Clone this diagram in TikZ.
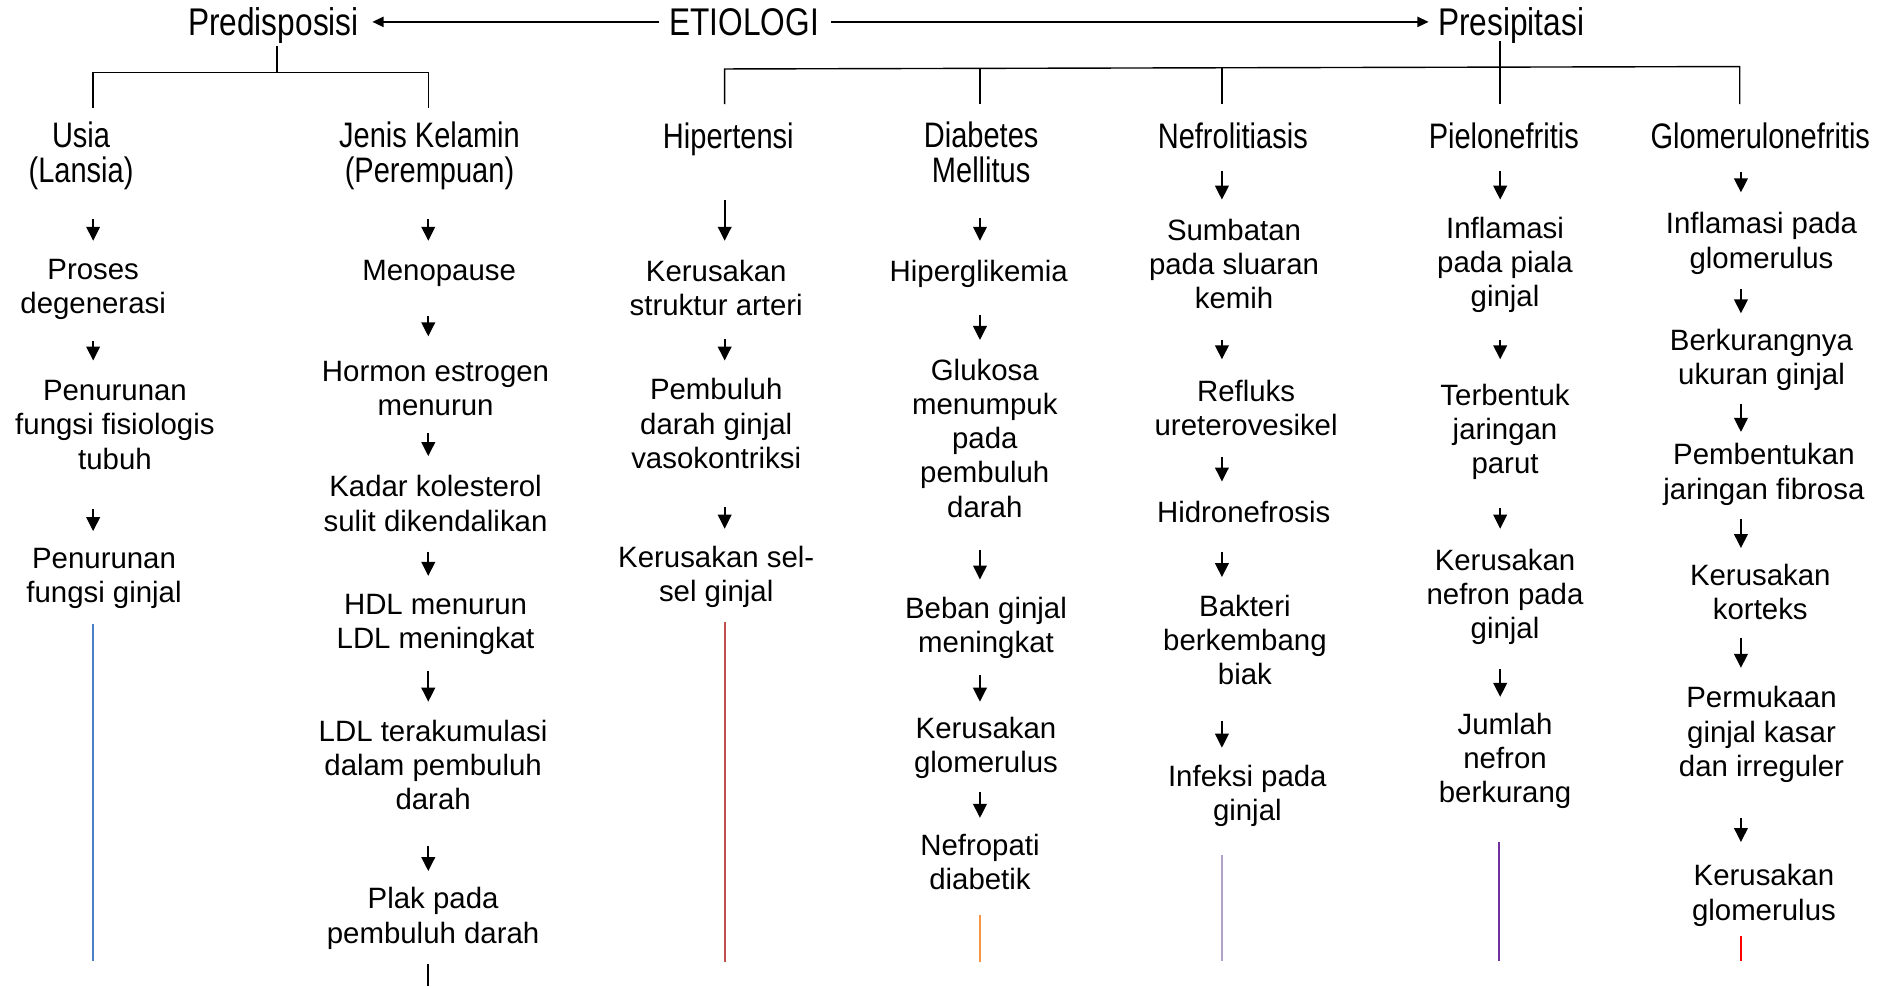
\documentclass[tikz,border=0pt]{standalone}
\usepackage{fontspec}
\setmainfont{Liberation Sans}
\newfontfamily\narrowfont[FakeStretch=0.82]{Liberation Sans}
\usetikzlibrary{arrows.meta}
\definecolor{lblue}{HTML}{4A7EC7}
\definecolor{lred}{HTML}{C0504D}
\definecolor{lorange}{HTML}{F79646}
\definecolor{llav}{HTML}{B3A2C7}
\definecolor{lpurple}{HTML}{7030A0}
\definecolor{lbright}{HTML}{FF0000}
\tikzset{
 txt/.style={font=\fontsize{14.7}{17.1}\selectfont, align=center, inner sep=0pt, yshift=-0.7pt},
 one/.style={yshift=-0.6pt},
 hd/.style={font=\narrowfont\fontsize{17.7}{17.5}\selectfont, align=center, inner sep=0pt},
 hdtwo/.style={hd, yshift=-1.2pt},
 ttl/.style={font=\narrowfont\fontsize{19.3}{22}\selectfont, inner sep=0pt, anchor=base},
 arr/.style={-{Triangle[width=6.8pt,length=7pt]}, line width=1pt},
 bigarr/.style={-{Triangle[width=5pt,length=5.6pt]}, line width=1pt},
 br/.style={line width=0.7pt},
 tail/.style={line width=1pt},
}
\newcommand\flow[4]{\coordinate (#1s) at (#2,#3); \coordinate (#1e) at (#2,#4); \draw[arr] (#1s) -- (#1e);}
\newcommand\tailline[5]{\coordinate (#1s) at (#2,#3); \coordinate (#1e) at (#2,#4); \draw[tail,#5] (#1s) -- (#1e);}
\begin{document}
\begin{tikzpicture}[x=0.6049pt,y=-0.6049pt]
\useasboundingbox (0,0) rectangle (1568,815);
% top row
\node[ttl] (pre) at (226,29.5) {Predisposisi};
\node[ttl] (eti) at (615,29.5) {ETIOLOGI};
\node[ttl] (pres) at (1249,29.5) {Presipitasi};
\draw[bigarr] ([xshift=-4.8pt,yshift=6.9pt]eti.base west) -- ([xshift=6.6pt,yshift=6.9pt]pre.base east);
\draw[bigarr] ([xshift=6pt,yshift=6.9pt]eti.base east) -- ([xshift=-4.5pt,yshift=6.9pt]pres.base west);
% brackets
\coordinate (pt) at (229,38);
\coordinate (pm) at (229,60);
\coordinate (bl) at (77,60);
\coordinate (br) at (354,60);
\draw[br] (pt) -- (pm);
\draw[br] (77,89) -- (bl) -- (br) -- (354,89);
\coordinate (qt) at (1240,34);
\coordinate (ql) at (599,57);
\coordinate (qr) at (1438,55);
\draw[br] (qt) -- (1240,86);
\draw[br] (599,86) -- (ql) -- (qr) -- (1438,86);
\draw[br] (810,56.6) -- (810,86);
\draw[br] (1010,56.1) -- (1010,86);
% column 1
\node[hdtwo] (usia) at (67,127) {Usia\\(Lansia)};
\flow{a11}{77}{181}{199}
\node[txt] (c12) at (77,238) {Proses\\degenerasi};
\flow{a12}{77}{282}{298}
\node[txt] (c13) at (95,350) {Penurunan\\fungsi fisiologis\\tubuh};
\flow{a13}{77}{421}{439}
\node[txt] (c14) at (86,477) {Penurunan\\fungsi ginjal};
\tailline{t1}{77}{516}{794}{lblue}
% column 2
\node[hdtwo] (jk) at (355,127) {Jenis Kelamin\\(Perempuan)};
\flow{a21}{354}{181}{199}
\node[txt,one] (c22) at (363,224) {Menopause};
\flow{a22}{354}{261}{278}
\node[txt] (c23) at (360,320) {Hormon estrogen\\menurun};
\flow{a23}{354}{358}{377}
\node[txt] (c24) at (360,415) {Kadar kolesterol\\sulit dikendalikan};
\flow{a24}{354}{456}{476}
\node[txt] (c25) at (360,515) {HDL menurun\\LDL meningkat};
\flow{a25}{354}{555}{580}
\node[txt] (c26) at (358,631) {LDL terakumulasi\\dalam pembuluh\\darah};
\flow{a26}{354}{699}{720}
\node[txt] (c27) at (358,758) {Plak pada\\pembuluh darah};
\tailline{t2}{354}{797}{815}{black}
% column 3
\node[hd,yshift=-1.8pt] (hip) at (602,112) {Hipertensi};
\flow{a31}{599}{165}{199}
\node[txt] (c32) at (592,237) {Kerusakan\\struktur arteri};
\flow{a32}{599}{280}{298}
\node[txt] (c33) at (592,349) {Pembuluh\\darah ginjal\\vasokontriksi};
\flow{a33}{599}{419}{437}
\node[txt] (c34) at (592,476) {Kerusakan sel-\\sel ginjal};
\tailline{t3}{599}{514}{795}{lred}
% column 4
\node[hd,yshift=0.6pt] (dm) at (811,127) {Diabetes\\Mellitus};
\flow{a41}{810}{180}{199}
\node[txt,one] (c42) at (809,224) {Hiperglikemia};
\flow{a42}{810}{260}{281}
\node[txt] (c43) at (814,361) {Glukosa\\menumpuk\\pada\\pembuluh\\darah};
\flow{a43}{810}{455}{479}
\node[txt] (c44) at (815,518) {Beban ginjal\\meningkat};
\flow{a44}{810}{558}{580}
\node[txt] (c45) at (815,617) {Kerusakan\\glomerulus};
\flow{a45}{810}{655}{676}
\node[txt] (c46) at (810,711) {Nefropati\\diabetik};
\tailline{t4}{810}{756}{795}{lorange}
% column 5
\node[hd] (nef) at (1019,112) {Nefrolitiasis};
\flow{a51}{1010}{141}{165}
\node[txt] (c52) at (1020,217) {Sumbatan\\pada sluaran\\kemih};
\flow{a52}{1010}{281}{297}
\node[txt] (c53) at (1030,336) {Refluks\\ureterovesikel};
\flow{a53}{1010}{378}{398}
\node[txt] (c54) at (1028,422) {Hidronefrosis};
\flow{a54}{1010}{456}{477}
\node[txt] (c55) at (1029,528) {Bakteri\\berkembang\\biak};
\flow{a55}{1010}{596}{618}
\node[txt] (c56) at (1031,657) {Infeksi pada\\ginjal};
\tailline{t5}{1010}{707}{794}{llav}
% column 6
\node[hd] (pie) at (1243,112) {Pielonefritis};
\flow{a61}{1240}{141}{165}
\node[txt] (c62) at (1244,218) {Inflamasi\\pada piala\\ginjal};
\flow{a62}{1240}{281}{297}
\node[txt] (c63) at (1244,356) {Terbentuk\\jaringan\\parut};
\flow{a63}{1240}{420}{437}
\node[txt] (c64) at (1244,492) {Kerusakan\\nefron pada\\ginjal};
\flow{a64}{1240}{553}{576}
\node[txt] (c65) at (1244,628) {Jumlah\\nefron\\berkurang};
\tailline{t6}{1239}{696}{794}{lpurple}
% column 7
\node[hd] (glo) at (1455,112) {Glomerulonefritis};
\flow{a71}{1439}{142}{159}
\node[txt] (c72) at (1456,200) {Inflamasi pada\\glomerulus};
\flow{a72}{1439}{239}{259}
\node[txt] (c73) at (1456,296.5) {Berkurangnya\\ukuran ginjal};
\flow{a73}{1439}{334}{357}
\node[txt] (c74) at (1458,391) {Pembentukan\\jaringan fibrosa};
\flow{a74}{1439}{429}{453}
\node[txt] (c75) at (1455,488) {Kerusakan\\korteks};
\flow{a75}{1439}{527}{552}
\node[txt] (c76) at (1456,606) {Permukaan\\ginjal kasar\\dan irreguler};
\flow{a76}{1439}{676}{696}
\node[txt] (c77) at (1458,739) {Kerusakan\\glomerulus};
\tailline{t7}{1439}{774}{794}{lbright}
\end{tikzpicture}
\end{document}
